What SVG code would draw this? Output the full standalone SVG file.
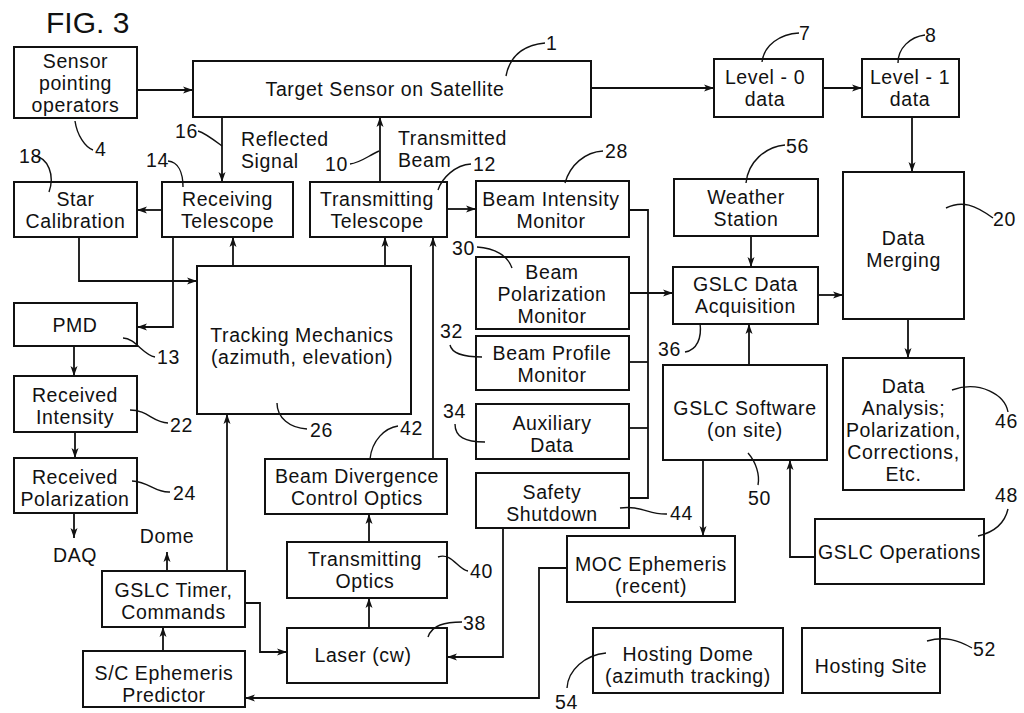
<svg xmlns="http://www.w3.org/2000/svg" width="1024" height="713" viewBox="0 0 1024 713">
<style>
.b{fill:#fff;stroke:#111;stroke-width:2}
text{font-family:"Liberation Sans",Arial,sans-serif;font-size:19.5px;letter-spacing:0.6px;fill:#111}
.c{text-anchor:middle}
.w{fill:none;stroke:#111;stroke-width:1.8}
.l{fill:none;stroke:#111;stroke-width:1.4}
</style>
<defs>
<marker id="a" markerUnits="userSpaceOnUse" markerWidth="12" markerHeight="10" refX="10" refY="5" orient="auto">
<path d="M0,1.5 L10,5 L0,8.5 L2.5,5 Z" fill="#111"/>
</marker>
</defs>
<rect width="1024" height="713" fill="#fff"/>
<text x="46" y="33" style="font-size:30px;letter-spacing:0">FIG. 3</text>

<g id="connectors">
<path class="w" d="M137,90 H193" marker-end="url(#a)"/>
<path class="w" d="M591,88 H714" marker-end="url(#a)"/>
<path class="w" d="M823,88 H862" marker-end="url(#a)"/>
<path class="w" d="M912,117 V172" marker-end="url(#a)"/>
<path class="w" d="M222,117 V182" marker-end="url(#a)"/>
<path class="w" d="M380,182 V117" marker-end="url(#a)"/>
<path class="w" d="M162,210 H137" marker-end="url(#a)"/>
<path class="w" d="M447,209 H476" marker-end="url(#a)"/>
<path class="w" d="M629,210 H648 V498 H629"/>
<path class="w" d="M629,362 H648"/>
<path class="w" d="M629,428 H648"/>
<path class="w" d="M629,293 H673" marker-end="url(#a)"/>
<path class="w" d="M751,236 V267" marker-end="url(#a)"/>
<path class="w" d="M818,295 H843" marker-end="url(#a)"/>
<path class="w" d="M908,319 V358" marker-end="url(#a)"/>
<path class="w" d="M749,365 V324" marker-end="url(#a)"/>
<path class="w" d="M703,460 V536" marker-end="url(#a)"/>
<path class="w" d="M815,557 H790 V460" marker-end="url(#a)"/>
<path class="w" d="M79,237 V281 H197" marker-end="url(#a)"/>
<path class="w" d="M173,237 V327 H137" marker-end="url(#a)"/>
<path class="w" d="M233,266 V237" marker-end="url(#a)"/>
<path class="w" d="M385,266 V237" marker-end="url(#a)"/>
<path class="w" d="M433,459 V237" marker-end="url(#a)"/>
<path class="w" d="M74,346 V376" marker-end="url(#a)"/>
<path class="w" d="M75,432 V458" marker-end="url(#a)"/>
<path class="w" d="M74,513 V538" marker-end="url(#a)"/>
<path class="w" d="M167,571 V552" marker-end="url(#a)"/>
<path class="w" d="M227,571 V414" marker-end="url(#a)"/>
<path class="w" d="M245,603 H260 V652 H287" marker-end="url(#a)"/>
<path class="w" d="M163,651 V627" marker-end="url(#a)"/>
<path class="w" d="M369,628 V598" marker-end="url(#a)"/>
<path class="w" d="M369,542 V514" marker-end="url(#a)"/>
<path class="w" d="M503,528 V657 H447" marker-end="url(#a)"/>
<path class="w" d="M567,568 H539 V698 H245" marker-end="url(#a)"/>
</g>

<g id="n-sensor"><rect class="b" x="14" y="47" width="123" height="71"/>
<text class="c" x="75.5" y="68">Sensor</text><text class="c" x="75.5" y="90">pointing</text><text class="c" x="75.5" y="112">operators</text></g>
<g id="n-target"><rect class="b" x="193" y="61" width="398" height="56"/>
<text class="c" x="385" y="96">Target Sensor on Satellite</text></g>
<g id="n-level0"><rect class="b" x="714" y="59" width="109" height="58"/>
<text class="c" x="765" y="84">Level - 0</text><text class="c" x="765" y="106">data</text></g>
<g id="n-level1"><rect class="b" x="862" y="59" width="97" height="58"/>
<text class="c" x="910" y="84">Level - 1</text><text class="c" x="910" y="106">data</text></g>
<g id="n-star"><rect class="b" x="14" y="182" width="123" height="55"/>
<text class="c" x="75.5" y="205.5">Star</text><text class="c" x="75.5" y="227.5">Calibration</text></g>
<g id="n-recv"><rect class="b" x="162" y="182" width="131" height="55"/>
<text class="c" x="227.5" y="205.5">Receiving</text><text class="c" x="227.5" y="227.5">Telescope</text></g>
<g id="n-transtel"><rect class="b" x="310" y="182" width="137" height="55"/>
<text class="c" x="377" y="205.5">Transmitting</text><text class="c" x="377" y="227.5">Telescope</text></g>
<g id="n-intensity"><rect class="b" x="476" y="181" width="153" height="56"/>
<text class="c" x="551" y="205.5">Beam Intensity</text><text class="c" x="551" y="227.5">Monitor</text></g>
<g id="n-weather"><rect class="b" x="674" y="179" width="144" height="57"/>
<text class="c" x="746" y="203.5">Weather</text><text class="c" x="746" y="225.5">Station</text></g>
<g id="n-merging"><rect class="b" x="843" y="172" width="121" height="147"/>
<text class="c" x="903.5" y="245">Data</text><text class="c" x="903.5" y="267">Merging</text></g>
<g id="n-polarization"><rect class="b" x="476" y="257" width="153" height="72"/>
<text class="c" x="552" y="279">Beam</text><text class="c" x="552" y="301">Polarization</text><text class="c" x="552" y="323">Monitor</text></g>
<g id="n-acq"><rect class="b" x="673" y="267" width="145" height="57"/>
<text class="c" x="745.5" y="291">GSLC Data</text><text class="c" x="745.5" y="313">Acquisition</text></g>
<g id="n-tracking"><rect class="b" x="197" y="266" width="214" height="148"/>
<text class="c" x="302" y="342">Tracking Mechanics</text><text class="c" x="302" y="364">(azimuth, elevation)</text></g>
<g id="n-pmd"><rect class="b" x="14" y="303" width="123" height="43"/>
<text class="c" x="75" y="332">PMD</text></g>
<g id="n-profile"><rect class="b" x="476" y="336" width="153" height="54"/>
<text class="c" x="552" y="360">Beam Profile</text><text class="c" x="552" y="382">Monitor</text></g>
<g id="n-aux"><rect class="b" x="476" y="404" width="153" height="55"/>
<text class="c" x="552" y="430">Auxiliary</text><text class="c" x="552" y="452">Data</text></g>
<g id="n-recvint"><rect class="b" x="14" y="376" width="123" height="56"/>
<text class="c" x="75" y="402">Received</text><text class="c" x="75" y="424">Intensity</text></g>
<g id="n-software"><rect class="b" x="663" y="365" width="164" height="95"/>
<text class="c" x="745" y="415">GSLC Software</text><text class="c" x="745" y="437">(on site)</text></g>
<g id="n-analysis"><rect class="b" x="843" y="358" width="121" height="132"/>
<text class="c" x="903.5" y="393">Data</text><text class="c" x="903.5" y="415">Analysis;</text><text class="c" x="903.5" y="437">Polarization,</text><text class="c" x="903.5" y="459">Corrections,</text><text class="c" x="903.5" y="481">Etc.</text></g>
<g id="n-recvpol"><rect class="b" x="14" y="458" width="123" height="55"/>
<text class="c" x="75" y="484">Received</text><text class="c" x="75" y="506">Polarization</text></g>
<g id="n-divergence"><rect class="b" x="265" y="459" width="182" height="55"/>
<text class="c" x="357" y="483">Beam Divergence</text><text class="c" x="357" y="505">Control Optics</text></g>
<g id="n-safety"><rect class="b" x="476" y="473" width="153" height="55"/>
<text class="c" x="552" y="499">Safety</text><text class="c" x="552" y="521">Shutdown</text></g>
<g id="n-moc"><rect class="b" x="567" y="536" width="168" height="66"/>
<text class="c" x="651" y="571">MOC Ephemeris</text><text class="c" x="651" y="593">(recent)</text></g>
<g id="n-ops"><rect class="b" x="815" y="519" width="169" height="65"/>
<text class="c" x="899.5" y="559">GSLC Operations</text></g>
<g id="n-optics"><rect class="b" x="287" y="542" width="160" height="56"/>
<text class="c" x="365" y="566">Transmitting</text><text class="c" x="365" y="588">Optics</text></g>
<g id="n-timer"><rect class="b" x="102" y="571" width="143" height="56"/>
<text class="c" x="173.5" y="597">GSLC Timer,</text><text class="c" x="173.5" y="619">Commands</text></g>
<g id="n-laser"><rect class="b" x="287" y="628" width="160" height="55"/>
<text class="c" x="363" y="662">Laser (cw)</text></g>
<g id="n-dome"><rect class="b" x="593" y="628" width="190" height="65"/>
<text class="c" x="688" y="661">Hosting Dome</text><text class="c" x="688" y="683">(azimuth tracking)</text></g>
<g id="n-site"><rect class="b" x="802" y="628" width="138" height="65"/>
<text class="c" x="871" y="673">Hosting Site</text></g>
<g id="n-sc"><rect class="b" x="83" y="651" width="162" height="56"/>
<text class="c" x="164" y="680">S/C Ephemeris</text><text class="c" x="164" y="702">Predictor</text></g>

<g id="free-texts">
<text x="241" y="146">Reflected</text><text x="241" y="168">Signal</text>
<text x="398" y="145">Transmitted</text><text x="398" y="167">Beam</text>
<text class="c" x="167" y="543">Dome</text>
<text class="c" x="75" y="562">DAQ</text>
</g>

<g id="labels">
<path class="l" d="M506,76 C510,55 525,45 545,43"/><text x="546" y="50">1</text>
<path class="l" d="M75,121 C77,135 85,147 93,150"/><text x="95" y="156">4</text>
<path class="l" d="M198,131 C205,133 214,140 222,146"/><text x="175" y="138">16</text>
<path class="l" d="M350,164 C360,163 368,156 379,151"/><text x="325" y="171">10</text>
<path class="l" d="M438,190 C442,178 455,165 471,164"/><text x="473" y="171">12</text>
<path class="l" d="M565,183 C570,165 585,152 603,151"/><text x="605" y="158">28</text>
<path class="l" d="M762,62 C764,45 780,34 799,33"/><text x="799" y="40">7</text>
<path class="l" d="M898,63 C898,48 910,37 925,35"/><text x="925" y="42">8</text>
<path class="l" d="M746,183 C748,162 765,147 785,145"/><text x="786" y="153">56</text>
<path class="l" d="M946,208 C962,200 975,205 993,218"/><text x="993" y="226">20</text>
<path class="l" d="M35,156 C48,158 55,175 49,192"/><text x="19" y="163">18</text>
<path class="l" d="M168,161 C178,162 183,172 183,187"/><text x="146" y="167">14</text>
<path class="l" d="M477,247 C495,248 508,256 512,268"/><text x="452" y="255">30</text>
<path class="l" d="M450,345 C452,354 465,357 482,357"/><text x="440" y="338">32</text>
<path class="l" d="M455,424 C455,437 465,442 485,442"/><text x="443" y="418">34</text>
<path class="l" d="M685,352 C697,350 702,338 700,323"/><text x="658" y="356">36</text>
<path class="l" d="M123,338 C135,338 143,355 155,357"/><text x="157" y="364">13</text>
<path class="l" d="M130,410 C148,410 153,423 168,423"/><text x="170" y="432">22</text>
<path class="l" d="M132,481 C150,482 155,493 170,492"/><text x="173" y="500">24</text>
<path class="l" d="M277,403 C277,418 290,428 307,429"/><text x="310" y="437">26</text>
<path class="l" d="M370,459 C372,440 385,428 398,426"/><text x="400" y="435">42</text>
<path class="l" d="M438,557 C452,552 458,570 468,571"/><text x="470" y="578">40</text>
<path class="l" d="M428,637 C432,625 445,622 462,622"/><text x="463" y="630">38</text>
<path class="l" d="M620,508 C640,505 650,515 667,514"/><text x="670" y="520">44</text>
<path class="l" d="M748,453 C756,462 760,475 758,485"/><text x="748" y="505">50</text>
<path class="l" d="M952,390 C980,380 1005,395 1008,412"/><text x="995" y="428">46</text>
<path class="l" d="M978,536 C995,532 1005,522 1008,509"/><text x="995" y="502">48</text>
<path class="l" d="M927,641 C945,636 958,640 972,648"/><text x="973" y="656">52</text>
<path class="l" d="M567,688 C568,670 585,655 606,653"/><text x="555" y="709">54</text>
</g>
</svg>
